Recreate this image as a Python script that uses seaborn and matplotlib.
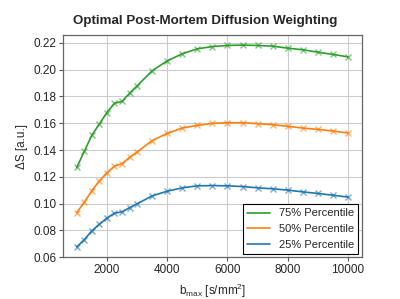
import matplotlib
matplotlib.use("Agg")
import matplotlib.pyplot as plt
from matplotlib.colors import to_rgba
import numpy as np
import pandas as pd
import seaborn as sns

# b-values [s/mm^2]
b_max = [1000, 1250, 1500, 1750, 2000, 2250, 2500, 2750, 3000,
         3500, 4000, 4500, 5000, 5500, 6000, 6500, 7000, 7500,
         8000, 8500, 9000, 9500, 10000]

p75 = [0.127, 0.139, 0.151, 0.1594, 0.168, 0.1748, 0.1763, 0.1823, 0.1878,
       0.1991, 0.2065, 0.2118, 0.2155, 0.2172, 0.218, 0.2183, 0.218, 0.2175,
       0.216, 0.2148, 0.213, 0.2113, 0.2095]
p50 = [0.0933, 0.1011, 0.1096, 0.117, 0.123, 0.128, 0.1298, 0.1345, 0.1385,
       0.147, 0.1524, 0.1564, 0.1584, 0.1599, 0.1604, 0.1604, 0.1597, 0.1589,
       0.1577, 0.1564, 0.1554, 0.1542, 0.1527]
p25 = [0.0677, 0.0732, 0.0797, 0.0847, 0.0892, 0.0929, 0.0939, 0.0969, 0.0999,
       0.1058, 0.1093, 0.1118, 0.1133, 0.1135, 0.1133, 0.1128, 0.1118, 0.1111,
       0.1101, 0.1088, 0.1076, 0.1063, 0.1049]

labels = ["75% Percentile", "50% Percentile", "25% Percentile"]
colors = ["#2ca02c", "#ff7f0e", "#1f77b4"]

sns.set_style("whitegrid")
plt.rcParams["font.family"] = ["Liberation Sans", "DejaVu Sans"]
plt.rcParams["mathtext.fontset"] = "custom"
plt.rcParams["mathtext.rm"] = "Liberation Sans"
plt.rcParams["mathtext.it"] = "Liberation Sans"

fig = plt.figure(figsize=(4, 2.99), dpi=100)
ax = fig.add_axes([0.158, 0.1395, 0.746, 0.7435])

for vals, lab, col in zip([p75, p50, p25], labels, colors):
    df = pd.DataFrame({"b": b_max, "dS": vals})
    sns.lineplot(data=df, x="b", y="dS", ax=ax, color=col, label=lab,
                 linewidth=1.2, marker="x", markersize=5, mew=1.0,
                 markeredgecolor=to_rgba(col, 0.6))

ax.set_xticks([2000, 4000, 6000, 8000, 10000])
ax.set_yticks(np.arange(0.06, 0.2201, 0.02))
ax.yaxis.set_major_formatter(matplotlib.ticker.FormatStrFormatter("%.2f"))
ax.tick_params(axis="both", labelsize=8.5, length=3, width=0.8,
               color="#555555", direction="out", pad=2)
ax.tick_params(axis="x", bottom=True)
ax.tick_params(axis="y", left=True)
ax.grid(True, color="#cccccc", linewidth=0.8)
for s in ax.spines.values():
    s.set_color("#666666")
    s.set_linewidth(0.9)

ax.set_xlabel(r"b$_{\rm max}$ [s/mm$^2$]", fontsize=8.5, labelpad=4)
ax.set_ylabel(r"ΔS [a.u.]", fontsize=8.5, labelpad=4)
ax.set_title("Optimal Post-Mortem Diffusion Weighting", fontsize=9.6,
             fontweight="bold", pad=8, x=0.475)

leg = ax.legend(loc="lower right", fontsize=8, frameon=True, fancybox=False,
                edgecolor="black", framealpha=1, borderaxespad=0.3,
                handlelength=2.0)
leg.get_frame().set_linewidth(0.8)
for h in leg.get_lines():
    h.set_marker("")

fig.savefig("out.png", dpi=100)
